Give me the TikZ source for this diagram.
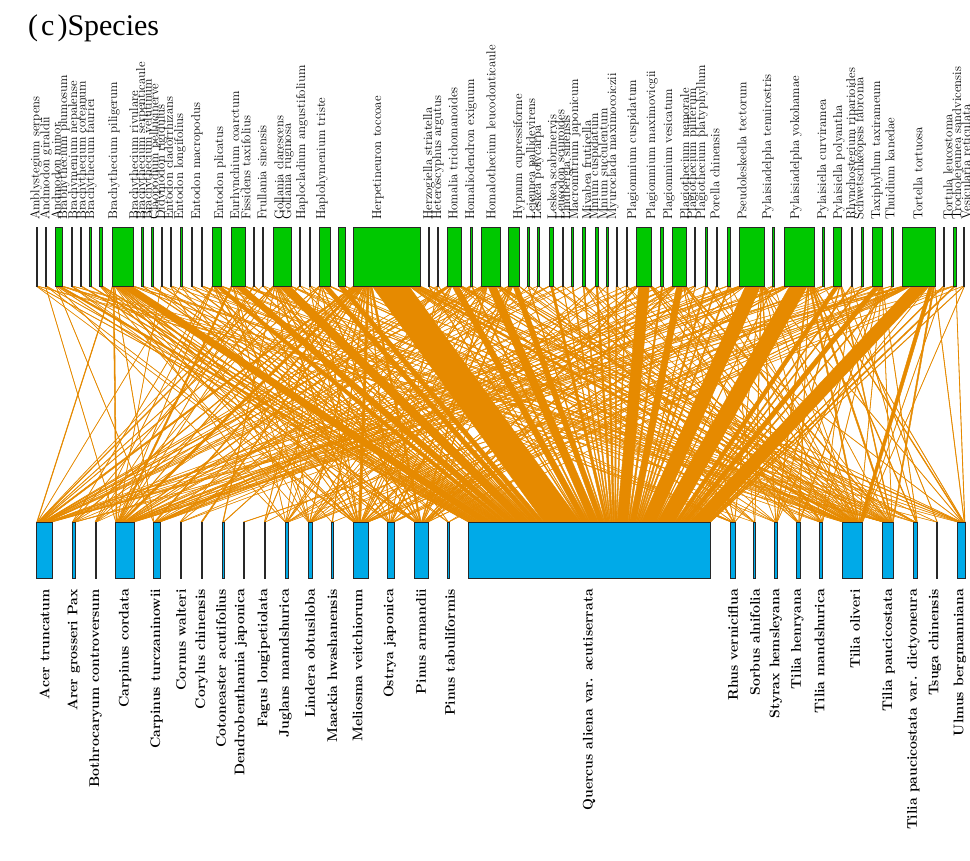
\documentclass[tikz,border=0pt]{standalone}
\usepackage{fontspec}
\newfontfamily\timesf{Liberation Serif}
\usetikzlibrary{backgrounds}
\definecolor{edgeor}{RGB}{230,138,0}
\definecolor{bargreen}{RGB}{0,200,0}
\definecolor{barblue}{RGB}{0,170,232}
\definecolor{barline}{RGB}{40,40,40}

% top bars: centre / width / units
\def\topdata{36.7/1.4/3,46/1.4/2,59/6.6/11,71.7/1.4/3,81/1.4/2,90.3/1.4/3,101.2/3/5,122.8/21/36,142.3/1.4/3,152.3/1.4/2,161.7/1.4/3,171/1.4/2,181.3/1.4/3,191.7/1.4/2,201.7/1.4/3,217/9.4/16,238/14/24,254/1.4/2,263/1.4/3,282/18/31,300/1.4/3,310/1.4/2,324.5/11/19,341.5/7/12,386.7/66.7/113,429/1.4/3,438/1.4/2,454.5/14.4/24,471.3/2.7/5,490.8/18.3/31,513.7/10.7/18,528.3/1.4/3,538.3/1.4/2,551.3/4/7,562.7/1.4/3,572.3/1.4/2,583.8/2.3/4,596.7/3.3/6,607.3/1.4/3,616.7/1.4/2,626.7/1.4/3,643.8/15.7/27,662/2.6/4,679.3/13.3/23,695/1.4/3,706.2/2.3/4,716.7/1.4/2,728.7/2.7/5,751.7/24.7/42,773.3/1.4/3,799/30/51,823.3/1.4/2,837.5/8.4/14,851.8/1.7/3,862.3/1.4/2,877.7/10/17,892.5/1.6/3,918.8/32.3/55,944/1.4/2,954.7/2.7/5,964/1.4/2}
% bottom bars: centre / width / weight
\def\botdata{44.5/15.6/16,74/3.4/4,95.7/1.4/2,125/18.6/19,156.7/6.7/7,180.7/1.4/2,201.7/1.4/2,223.3/1.4/2,244/1.4/2,265/1.4/2,286.7/3.3/4,310.3/4/4,332.3/1.4/2,360.8/15/15,391/6.6/7,421.3/14/14,448.3/1.4/2,589.5/242.4/0,732.9/4.3/4,754.3/1.4/2,775.8/3/3,798.3/3.3/3,821/3.4/3,852.5/20.4/20,888/10.6/11,915.3/4/4,936.7/1.4/2,961.2/7.7/8}

\newcount\cumc \cumc=0
\newcount\rr
\newcount\selj
\foreach \bc/\bw/\bwt [count=\j] in \botdata {%
  \global\advance\cumc by \bwt\relax
  \expandafter\xdef\csname cw\j\endcsname{\the\cumc}%
  \expandafter\xdef\csname bt\j\endcsname{0}%
  \expandafter\xdef\csname bw\j\endcsname{\bw}%
}
\edef\cumtop{\the\numexpr\cumc-1\relax}
\def\pickbottom{\global\selj=0 \pickloop}
\def\pickloop{%
  \global\advance\selj by 1\relax
  \ifnum\rr<\csname cw\the\selj\endcsname\relax
  \else\expandafter\pickloop\fi}
\def\addpair#1#2{%
  \ifcsname n#1-#2\endcsname
    \expandafter\xdef\csname n#1-#2\endcsname{\the\numexpr\csname n#1-#2\endcsname+1\relax}%
  \else
    \expandafter\xdef\csname n#1-#2\endcsname{1}%
  \fi
  \expandafter\xdef\csname bt#2\endcsname{\the\numexpr\csname bt#2\endcsname+1\relax}%
}
\pgfmathsetseed{2024}
\foreach \tc/\tw/\tu [count=\i] in \topdata {%
  \edef\nunits{\the\numexpr (3*\tu)/2+1\relax}%
  \expandafter\xdef\csname tt\i\endcsname{\nunits}%
  \foreach \k in {1,...,\nunits} {%
    \pgfmathrandominteger{\rv}{0}{999}%
    \ifnum\rv<560 \global\selj=18 \else
      \pgfmathrandominteger{\rv}{0}{\cumtop}%
      \global\rr=\rv\relax
      \pickbottom
    \fi
    \edef\sj{\the\selj}%
    \addpair{\i}{\sj}%
  }%
}

\begin{document}
\begin{tikzpicture}[x=1pt,y=-1pt,
  tbar/.style={rectangle, fill=bargreen, draw=barline, line width=0.7pt, inner sep=0pt, outer sep=0pt, minimum height=58.5pt},
  bbar/.style={rectangle, fill=barblue, draw=barline, line width=0.7pt, inner sep=0pt, outer sep=0pt, minimum height=56.5pt},
  edge/.style={fill=edgeor, draw=edgeor, line width=0.45pt, line join=round},
  tlab/.style={font=\fontsize{12.8}{13}\selectfont, inner sep=0pt, rotate=90, anchor=west},
  blab/.style={font=\fontsize{14}{14}\selectfont\bfseries, inner sep=0pt, rotate=90, anchor=east},
]
\useasboundingbox (0,0) rectangle (970,861);
\foreach \tc/\tw/\tu [count=\i] in \topdata
  \node[tbar, minimum width=\tw pt] (t\i) at (\tc,256.75) {};
\foreach \bc/\bw/\bwt [count=\j] in \botdata
  \node[bbar, minimum width=\bw pt] (b\j) at (\bc,550.25) {};
\begin{pgfonlayer}{background}
\fill[white] (0,0) rectangle (970,861);
\foreach \j in {1,...,28}{\expandafter\xdef\csname bo\j\endcsname{0pt}}
\foreach \tc/\tw/\tu [count=\i] in \topdata {%
  \xdef\toff{0pt}%
  \edef\ttot{\csname tt\i\endcsname}%
  \foreach \j in {1,...,28} {%
    \ifcsname n\i-\j\endcsname
      \edef\nn{\csname n\i-\j\endcsname}%
      \edef\aA{\toff}%
      \edef\aB{\the\dimexpr\toff+\tw pt*\nn/\ttot\relax}%
      \edef\bA{\csname bo\j\endcsname}%
      \edef\bB{\the\dimexpr\bA+\csname bw\j\endcsname pt*\nn/\csname bt\j\endcsname\relax}%
      \filldraw[edge] ([xshift=\aA]t\i.south west) -- ([xshift=\aB]t\i.south west) -- ([xshift=\bB]b\j.north west) -- ([xshift=\bA]b\j.north west) -- cycle;
      \xdef\toff{\aB}%
      \expandafter\xdef\csname bo\j\endcsname{\bB}%
    \fi
  }%
}
\end{pgfonlayer}
\node[anchor=base west, inner sep=0pt, font=\fontsize{30}{30}\selectfont\timesf] (title) at (28,36) {(\kern3pt c\kern3pt)Species};
\foreach \lx/\lt [count=\i] in {36/Amblystegium serpens, 46/Andmodon giraldii, 56/Andmodon minor, 64/Brabhythecium plumosum, 74/Brachymenium nepalense, 82.5/Brachythecium coreanum, 91/Brachythecium fauriei, 114/Brachythecium piligerum, 135/Brachythecium rivulare, 142/Brachythecium serpenticaule, 148.5/Brachythecium velutinum, 155/Claopodium pellucinerve, 161.5/Didymodon rigidulus, 168.5/Entodon cladorrhizans, 180/Entodon longifolius, 197/Entodon macropodus, 220/Entodon plicatus, 236/Eurhynchium coarctum, 246/Fissidens taxifolius, 262/Frullania sinensis, 279/Gollania clarescens, 288/Gollania ruginosa, 302/Haplocladium angustifolium, 322/Haplohymenium triste, 378/Herpetineuron toccoae, 429/Herzogiella striatella, 438/Heteroscyphus argutus, 453/Homalia trichomanoides, 471/Homaliodendron exiguum, 491/Homalothecium leucodonticaule, 519/Hypnum cupressiforme, 532/Lejeunea pallidevirens, 538/Leskea polycarpa, 552/Leskea scabrinervis, 560/Leucodon sciuroides, 567/Lindbergia sinensis, 575/Macromitrium japonicum, 588/Miyabea fruticella, 595/Mnium cuspidatum, 603/Mnium succulentum, 613/Myuroclada maximocoiczii, 633/Plagiomnium cuspidatum, 652/Plagiomnium maximovicgii, 669/Plagiomnium vesicatum, 686/Plagiothecium nemorale, 693/Plagiothecium piliferum, 702/Plagiothecium platyphyllum, 715/Porella chinensis, 742/Pseudoleskeella tectorum, 768/Pylaisiadelpha tenuirostris, 796/Pylaisiadelpha yokohamae, 823/Pylaisiella curviramea, 839/Pylaisiella polyantha, 852/Rhynchostegium riparioides, 860/Schwetschkeopsis fabronia, 877/Taxiphyllum taxirameum, 890/Thuidium kanedae, 918/Tortella tortuosa, 948/Tortula leucostoma, 958/Trocholejeunea sandvicensis, 966/Vesicularia reticulata}
  \node[tlab] (tl\i) at (\lx,220) {\lt};
\foreach \lx/\lt [count=\i] in {44.5/Acer truncatum, 74/Arer grosseri Pax, 95.7/Bothrocaryum controversum, 125/Carpinus cordata, 156.7/Carpinus turczaninowii, 181/Cornus walteri, 201.7/Corylus chinensis, 221/Cotoneaster acutifolius, 241/Dendrobenthamia japonica, 264/Fagus longipetiolata, 285.5/Juglans mamdshurica, 310/Lindera obtusiloba, 332.3/Maackia hwashanensis, 357.5/Meliosma veitchiorum, 390/Ostrya japonica, 421/Pinus armandii, 450/Pinus tabuliformis, 589/Quercus aliena var. acutiserrata, 733/Rhus verniciflua, 755/Sorbus alnifolia, 776/Styrax hemsleyana, 797.5/Tilia henryana, 819.5/Tilia mandshurica, 855/Tilia oliveri, 888.5/Tilia paucicostata, 913.5/Tilia paucicostata var. dictyoneura, 935/Tsuga chinensis, 960/Ulmus bergmanniana}
  \node[blab] (bl\i) at (\lx,589) {\lt};
\end{tikzpicture}
\end{document}
